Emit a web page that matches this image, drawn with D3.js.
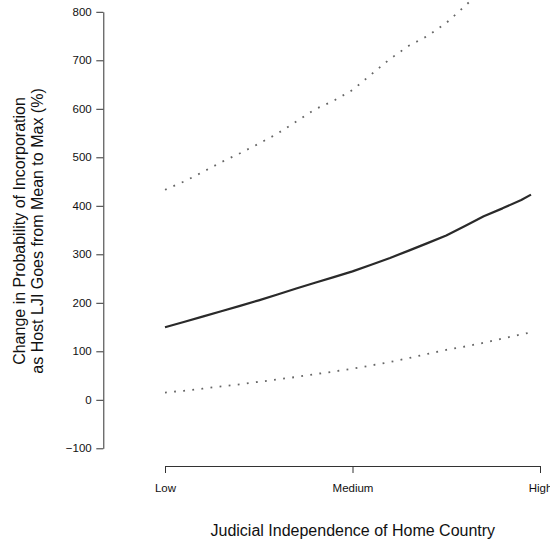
<!DOCTYPE html>
<html>
<head>
<meta charset="utf-8">
<script src="https://cdn.jsdelivr.net/npm/d3@7"></script>
<style>
  html, body { margin: 0; padding: 0; background: #fff; }
  svg { display: block; font-family: "Liberation Sans", Arial, Helvetica, sans-serif; }
</style>
</head>
<body>
<svg id="chart" width="550" height="542"></svg>
<script>
// Judicial independence of home country (0 = Low, 0.5 = Medium, 1 = High)
const xValues = [0, 0.05, 0.1, 0.15, 0.2, 0.25, 0.3, 0.35, 0.4, 0.45, 0.5, 0.55, 0.6, 0.65, 0.7, 0.75, 0.8, 0.85, 0.9, 0.95, 0.976];
// Point estimate (%)
const estimate = [149.5, 160.5, 171.5, 182.5, 193.7, 205.1, 217.1, 229.5, 241.3, 252.9, 264.8, 278.3, 292.4, 307.6, 323, 338.8, 358.2, 378.4, 394.7, 412.1, 423];
// Upper confidence bound (%)
const upper = [433, 449.8, 469.3, 490, 508.3, 528.1, 548.9, 573.8, 599, 616.7, 638.8, 670.9, 702.9, 729.9, 750.2, 777, 812, 848, 884, 920, 940];
// Lower confidence bound (%)
const lower = [15, 18.6, 22.9, 27.7, 32.0, 37.0, 42.0, 47.1, 53.0, 58.2, 64.1, 70.9, 77.9, 86.0, 94.7, 102.9, 109.9, 117.6, 126.4, 134.8, 139.2];

const xTickValues = [0, 0.5, 1];
const xTickLabels = ["Low", "Medium", "High"];
const yTickValues = [-100, 0, 100, 200, 300, 400, 500, 600, 700, 800];

const xTitle = "Judicial Independence of Home Country";
const yTitle1 = "Change in Probability of Incorporation";
const yTitle2 = "as Host LJI Goes from Mean to Max (%)";

const svg = d3.select("#chart");

const x = d3.scaleLinear().domain([0, 1]).range([165, 540]);
const y = d3.scaleLinear().domain([-100, 800]).range([448.3, 11.8]);

// plot clip region (R-style 4% extension)
svg.append("defs").append("clipPath").attr("id", "plotclip")
  .append("rect").attr("x", 150).attr("y", -6).attr("width", 405).attr("height", 472);

const plot = svg.append("g").attr("clip-path", "url(#plotclip)");

function seriesLine(vals) {
  return d3.line().x((d, i) => x(xValues[i])).y(d => y(d))(vals);
}

// Confidence bounds (dotted)
[upper, lower].forEach(vals => {
  plot.append("path")
    .attr("d", seriesLine(vals))
    .attr("fill", "none")
    .attr("stroke", "#666")
    .attr("stroke-width", 1.8)
    .attr("stroke-dasharray", "1.8,7.35");
});

// Estimate (solid)
plot.append("path")
  .attr("d", seriesLine(estimate))
  .attr("fill", "none")
  .attr("stroke", "#2a2a2a")
  .attr("stroke-width", 2.2)
  .attr("stroke-linejoin", "round");

// Y axis
const yAxis = svg.append("g")
  .attr("transform", "translate(103.3,0)")
  .call(d3.axisLeft(y).tickValues(yTickValues).tickSize(7).tickSizeOuter(0).tickPadding(4.6));

// X axis
const xAxis = svg.append("g")
  .attr("transform", "translate(0,466)")
  .call(d3.axisBottom(x).tickValues(xTickValues).tickSize(7).tickSizeOuter(0).tickPadding(10.5)
    .tickFormat((d, i) => xTickLabels[i]));

[yAxis, xAxis].forEach(g => {
  g.selectAll("path, line").attr("stroke", "#333").attr("stroke-width", 1);
  g.selectAll("text").attr("fill", "#111").style("font-size", "11.5px")
    .style("font-family", "'Liberation Sans', Arial, Helvetica, sans-serif");
});

// Axis titles
svg.append("text")
  .attr("x", 352.8).attr("y", 536)
  .attr("text-anchor", "middle")
  .attr("fill", "#111")
  .style("font-size", "16px")
  .text(xTitle);

svg.append("text")
  .attr("transform", "translate(24.5,231) rotate(-90)")
  .attr("text-anchor", "middle")
  .attr("fill", "#111")
  .style("font-size", "16px")
  .text(yTitle1);

svg.append("text")
  .attr("transform", "translate(43,231) rotate(-90)")
  .attr("text-anchor", "middle")
  .attr("fill", "#111")
  .style("font-size", "16px")
  .text(yTitle2);
</script>
</body>
</html>
